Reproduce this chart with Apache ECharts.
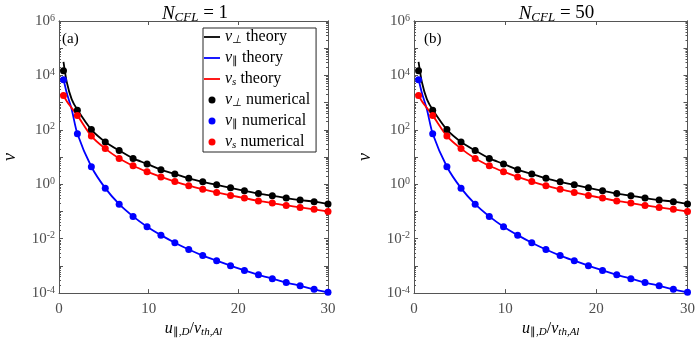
<!DOCTYPE html>
<html>
<head>
<meta charset="UTF-8">
<title>collision frequencies</title>
<script src="https://cdn.jsdelivr.net/npm/echarts@6/dist/echarts.min.js"></script>
<style>
  html, body { margin: 0; padding: 0; background: #fff; }
  #chart { width: 698px; height: 343px; }
</style>
</head>
<body>
<div id="chart"></div>
<script>
// numerical points (u_par,D / v_th,Al)
var uNum = [0.5, 2.05, 3.61, 5.16, 6.71, 8.26, 9.82, 11.37, 12.92, 14.47,
            16.03, 17.58, 19.13, 20.68, 22.24, 23.79, 25.34, 26.89, 28.45, 30];
var perpNum = [15000, 525, 102, 36, 17.4, 8.9, 5.6, 3.4, 2.4, 1.66,
               1.23, 0.95, 0.74, 0.575, 0.457, 0.38, 0.31, 0.263, 0.229, 0.19];
var parNum = [6900, 72, 4.4, 0.72, 0.186, 0.066, 0.0275, 0.0135, 0.0071, 0.004,
              0.0024, 0.00155, 0.00102, 0.00068, 0.00047, 0.00034, 0.000245, 0.000186, 0.000138, 0.000107];
var sNum = [1820, 340, 59, 20.4, 8.9, 4.8, 2.9, 1.86, 1.26, 0.89,
            0.66, 0.5, 0.39, 0.31, 0.245, 0.204, 0.166, 0.141, 0.12, 0.1];

// theory curves
var uTh = [0.5, 0.87, 1.42, 2.05, 3.61, 5.16, 6.71, 8.26, 9.82, 11.37, 12.92, 14.47,
           16.03, 17.58, 19.13, 20.68, 22.24, 23.79, 25.34, 26.89, 28.45, 30];
var perpTh = [31600, 5600, 1320, 550, 102, 36, 17.4, 8.9, 5.6, 3.4, 2.4, 1.66,
              1.23, 0.95, 0.74, 0.575, 0.457, 0.38, 0.31, 0.263, 0.229, 0.19];
var parTh = [7400, 2240, 560, 72, 4.4, 0.72, 0.186, 0.066, 0.0275, 0.0135, 0.0071, 0.004,
             0.0024, 0.00155, 0.00102, 0.00068, 0.00047, 0.00034, 0.000245, 0.000186, 0.000138, 0.000107];
var sTh = [1820, 1120, 630, 340, 59, 20.4, 8.9, 4.8, 2.9, 1.86, 1.26, 0.89,
           0.66, 0.5, 0.39, 0.31, 0.245, 0.204, 0.166, 0.141, 0.12, 0.1];

var panelTitles = ['1', '50'];
var panelTags = ['(a)', '(b)'];
var yLabelExp = [-4, -2, 0, 2, 4, 6];

var serif = 'Liberation Serif';
var axisGray = '#555';
var textGray = '#4d4d4d';

var yMajor = [], yMinor = [];
for (var e = -4; e <= 6; e++) {
    yMajor.push(Math.pow(10, e));
    if (e < 6) for (var k = 2; k <= 9; k++) yMinor.push(k * Math.pow(10, e));
}
var yLabels = yLabelExp.map(function (n) { return Math.pow(10, n); });

function pairs(xs, ys) {
    return xs.map(function (x, i) { return [x, ys[i]]; });
}

var grids = [
    {left: 52, top: 21, width: 276, height: 274},
    {left: 414, top: 21, width: 275, height: 274}
];

function richSet(big, small) {
    return {
        i: {fontFamily: serif, fontStyle: 'italic', fontWeight: 'normal', fontSize: big, color: '#000', lineHeight: big + 2},
        n: {fontFamily: serif, fontWeight: 'normal', fontSize: big, color: '#000', lineHeight: big + 2},
        sub: {fontFamily: serif, fontStyle: 'italic', fontWeight: 'normal', fontSize: small, color: '#000', verticalAlign: 'bottom', lineHeight: small},
        subn: {fontFamily: serif, fontWeight: 'normal', fontSize: small, color: '#000', verticalAlign: 'bottom', lineHeight: small}
    };
}
var subRich = richSet(16, 11);
var titleRich = richSet(19, 13);

var xAxes = [], yAxes = [], series = [], titles = [];

grids.forEach(function (g, p) {
    titles.push({
        text: '{i|N}{sub|CFL}{n| = ' + panelTitles[p] + '}',
        left: g.left + g.width / 2, top: -2, textAlign: 'center',
        textStyle: {fontWeight: 'normal', rich: titleRich}
    });
    titles.push({
        text: panelTags[p], left: g.left + 5, top: 27,
        textStyle: {fontFamily: serif, fontSize: 15, fontWeight: 'normal', color: '#000'}
    });

    ['bottom', 'top'].forEach(function (pos) {
        xAxes.push({
            type: 'value', gridIndex: p, position: pos, min: 0, max: 30, interval: 10,
            axisLine: {show: true, onZero: false, lineStyle: {color: axisGray, width: 1}},
            axisTick: {show: true, inside: true, length: 4, lineStyle: {color: axisGray}},
            axisLabel: {show: pos === 'bottom', margin: 8, fontFamily: serif, fontSize: 15, color: textGray},
            splitLine: {show: false},
            name: pos === 'bottom' ? '{i|u}{subn|\u2225}{subn|,}{sub|D}{n|/}{i|v}{sub|th,Al}' : '',
            nameLocation: 'middle', nameGap: 25,
            nameTextStyle: {rich: subRich}
        });
    });

    ['left', 'right'].forEach(function (pos) {
        [true, false].forEach(function (major) {
            var ax = {
                type: 'log', logBase: 10, gridIndex: p, position: pos, min: 1e-4, max: 1e6,
                axisLine: {show: true, onZero: false, lineStyle: {color: axisGray, width: 1}},
                axisTick: {show: true, inside: true, length: major ? 4 : 2,
                           customValues: major ? yMajor : yMinor,
                           lineStyle: {color: axisGray}},
                axisLabel: {show: false},
                splitLine: {show: false}
            };
            if (pos === 'left' && major) {
                ax.axisLabel = {
                    show: true, margin: 4, customValues: yLabels,
                    formatter: function (v) {
                        return '{b|10}{s|' + Math.round(Math.log10(v)) + '}';
                    },
                    rich: {
                        b: {fontFamily: serif, fontSize: 15, color: textGray, lineHeight: 16},
                        s: {fontFamily: serif, fontSize: 10, color: textGray, verticalAlign: 'top', lineHeight: 10}
                    }
                };
                ax.name = '\u03bd';
                ax.nameLocation = 'middle';
                ax.nameGap = 40;
                ax.nameRotate = 90;
                ax.nameTextStyle = {fontFamily: serif, fontStyle: 'italic', fontSize: 18, color: '#000'};
            }
            yAxes.push(ax);
        });
    });

    var xi = p * 2, yi = p * 4;
    var lines = [
        {name: 'perpTh', data: pairs(uTh, perpTh), color: '#000'},
        {name: 'parTh', data: pairs(uTh, parTh), color: '#0000ff'},
        {name: 'sTh', data: pairs(uTh, sTh), color: '#ff0000'}
    ];
    lines.forEach(function (l) {
        series.push({
            name: l.name, type: 'line', xAxisIndex: xi, yAxisIndex: yi,
            data: l.data, symbol: 'none', smooth: 0.25,
            lineStyle: {color: l.color, width: 1.8}, itemStyle: {color: l.color},
            z: 2
        });
    });
    var pts = [
        {name: 'perpNum', data: pairs(uNum, perpNum), color: '#000'},
        {name: 'parNum', data: pairs(uNum, parNum), color: '#0000ff'},
        {name: 'sNum', data: pairs(uNum, sNum), color: '#ff0000'}
    ];
    pts.forEach(function (s) {
        series.push({
            name: s.name, type: 'scatter', xAxisIndex: xi, yAxisIndex: yi,
            data: s.data, symbol: 'circle', symbolSize: 7,
            itemStyle: {color: s.color, opacity: 1}, z: 3
        });
    });
});

var legendText = {
    perpTh: '{i|\u03bd}{sub|\u22a5}{n| theory}',
    parTh: '{i|\u03bd}{subn|\u2225}{n| theory}',
    sTh: '{i|\u03bd}{sub|s}{n| theory}',
    perpNum: '{i|\u03bd}{sub|\u22a5}{n| numerical}',
    parNum: '{i|\u03bd}{subn|\u2225}{n| numerical}',
    sNum: '{i|\u03bd}{sub|s}{n| numerical}'
};
var lineIcon = 'path://M0,0 L16,0 L16,1.8 L0,1.8 Z';

var chart = echarts.init(document.getElementById('chart'), null, {renderer: 'canvas'});
chart.setOption({
    animation: false,
    backgroundColor: '#fff',
    title: titles,
    grid: grids,
    xAxis: xAxes,
    yAxis: yAxes,
    legend: {
        data: [
            {name: 'perpTh', icon: lineIcon},
            {name: 'parTh', icon: lineIcon},
            {name: 'sTh', icon: lineIcon},
            {name: 'perpNum', icon: 'circle'},
            {name: 'parNum', icon: 'circle'},
            {name: 'sNum', icon: 'circle'}
        ],
        orient: 'vertical', left: 203, top: 28,
        itemWidth: 16, itemHeight: 7, itemGap: 4,
        padding: [1, 6, 1, 1],
        backgroundColor: '#fff', borderColor: '#262626', borderWidth: 1,
        selectedMode: false,
        formatter: function (name) { return legendText[name]; },
        textStyle: {rich: subRich}
    },
    series: series
});
</script>
</body>
</html>
